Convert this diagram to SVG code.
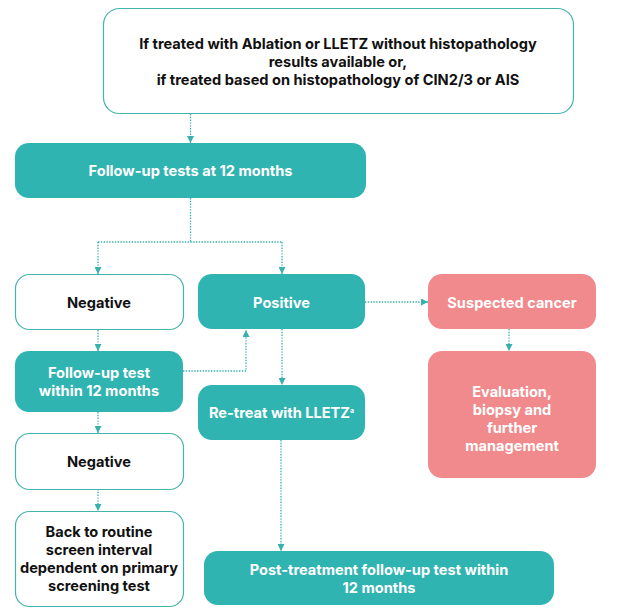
<svg xmlns="http://www.w3.org/2000/svg" width="623" height="615" viewBox="0 0 623 615">
<defs>
<marker id="ah" viewBox="0 0 8 8" refX="8" refY="4" markerWidth="7" markerHeight="7" markerUnits="userSpaceOnUse" orient="auto">
<path d="M0,0 L8,4 L0,8 Z" fill="#36b1ad"/>
</marker>
<style>
.t{font-family:Inter,"Liberation Sans",Arial,sans-serif;font-weight:700;font-size:14.6px;text-anchor:middle}
.dk{fill:#111}
.wt{fill:#fff}
.outl{fill:#fff;stroke:#45b3ae;stroke-width:1.2}
.teal{fill:#2fb4b1}
.pink{fill:#f18a8c}
.c{fill:none;stroke:#36b1ad;stroke-width:1.3;stroke-dasharray:1.4 1.4;marker-end:url(#ah)}
.cn{fill:none;stroke:#36b1ad;stroke-width:1.3;stroke-dasharray:1.4 1.4}
</style>
</defs>
<rect width="623" height="615" fill="#fff"/>
<g id="connectors">
<path class="c" d="M190.5,114 V143"/>
<path class="cn" d="M190.5,198 V242 M98,242 H282"/>
<path class="c" d="M98,242 V274"/>
<path class="c" d="M282,242 V274"/>
<path class="c" d="M98,330 V351"/>
<path class="c" d="M183,371 H246 V330"/>
<path class="c" d="M282,329 V385"/>
<path class="c" d="M365,302 H428"/>
<path class="c" d="M509,329 V351"/>
<path class="c" d="M98,412 V433"/>
<path class="c" d="M98,489 V511"/>
<path class="c" d="M281,440 V551"/>
</g>
<g id="start">
<rect class="outl" x="103.5" y="8.5" width="470" height="105" rx="16"/>
<text class="t dk" x="338" y="48.5">If treated with Ablation or LLETZ without histopathology</text>
<text class="t dk" x="338" y="66.5">results available or,</text>
<text class="t dk" x="338" y="84.5">if treated based on histopathology of CIN2/3 or AIS</text>
</g>
<g id="followup12">
<rect class="teal" x="15" y="143" width="351" height="55" rx="14"/>
<text class="t wt" x="190.5" y="176">Follow-up tests at 12 months</text>
</g>
<g id="negative1">
<rect class="outl" x="15.5" y="274.5" width="168" height="55" rx="14"/>
<text class="t dk" x="99" y="308">Negative</text>
</g>
<g id="positive">
<rect class="teal" x="198" y="274" width="167" height="55" rx="14"/>
<text class="t wt" x="281.5" y="308">Positive</text>
</g>
<g id="suspected">
<rect class="pink" x="428" y="274" width="168" height="55" rx="14"/>
<text class="t wt" x="512" y="308">Suspected cancer</text>
</g>
<g id="evaluation">
<rect class="pink" x="428" y="351" width="168" height="127" rx="14"/>
<text class="t wt" x="512" y="397">Evaluation,</text>
<text class="t wt" x="512" y="415">biopsy and</text>
<text class="t wt" x="512" y="433">further</text>
<text class="t wt" x="512" y="451">management</text>
</g>
<g id="followuptest">
<rect class="teal" x="15" y="351" width="168" height="61" rx="14"/>
<text class="t wt" x="99" y="378">Follow-up test</text>
<text class="t wt" x="99" y="396">within 12 months</text>
</g>
<g id="retreat">
<rect class="teal" x="198" y="385" width="167" height="55" rx="14"/>
<text class="t wt" x="281.5" y="418">Re-treat with LLETZ<tspan font-size="7" dy="-5">a</tspan></text>
</g>
<g id="negative2">
<rect class="outl" x="15.5" y="433.5" width="168" height="56" rx="14"/>
<text class="t dk" x="99" y="467">Negative</text>
</g>
<g id="routine">
<rect class="outl" x="15.5" y="511.5" width="168" height="95" rx="14"/>
<text class="t dk" x="99" y="537">Back to routine</text>
<text class="t dk" x="99" y="555">screen interval</text>
<text class="t dk" x="99" y="573">dependent on primary</text>
<text class="t dk" x="99" y="591">screening test</text>
</g>
<g id="posttreatment">
<rect class="teal" x="204" y="551" width="350" height="54" rx="14"/>
<text class="t wt" x="379" y="575">Post-treatment follow-up test within</text>
<text class="t wt" x="379" y="593">12 months</text>
</g>
</svg>
